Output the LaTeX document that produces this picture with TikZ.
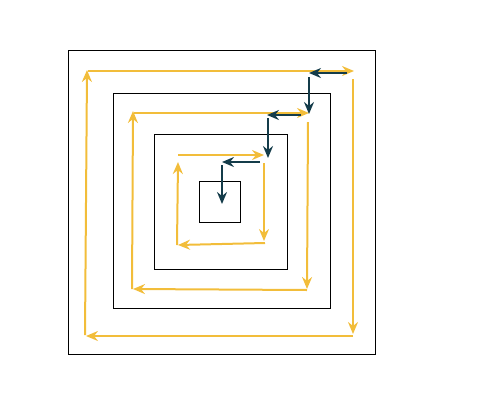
\documentclass[tikz,border=0pt]{standalone}
\usepackage{xcolor}
\usepackage{tikz}
\usetikzlibrary{arrows.meta}

\definecolor{spiralyellow}{HTML}{F2BD3A}
\definecolor{stepteal}{HTML}{143C4A}

\begin{document}
\begin{tikzpicture}[x=1pt,y=-1pt,
  frame/.style={draw=black,line width=0.9pt},
  yarrow/.style={draw=spiralyellow,line width=2pt,-{Stealth[length=12pt,width=10pt,inset=4pt]}},
  tarrow/.style={draw=stepteal,line width=2pt,-{Stealth[length=12pt,width=10pt,inset=4pt]}}]
\useasboundingbox (0,0) rectangle (477,416);

% nested squares
\draw[frame] (68,50) rectangle (375,354);
\draw[frame] (113,93) rectangle (330,308);
\draw[frame] (154,134) rectangle (287,269);
\draw[frame] (199,181) rectangle (240,222);

% outer ring
\draw[yarrow] (88,71) -- (354,71);
\draw[yarrow] (353,79) -- (353,334);
\draw[yarrow] (353,336) -- (86,336);
\draw[yarrow] (85,335) -- (87,70);

% middle ring
\draw[yarrow] (134,113) -- (309,113);
\draw[yarrow] (308,122) -- (307,289);
\draw[yarrow] (307,290) -- (133,289);
\draw[yarrow] (132,289) -- (133,111);

% inner ring
\draw[yarrow] (178,155) -- (264,155);
\draw[yarrow] (264,163) -- (264,241);
\draw[yarrow] (265,243) -- (178,245);
\draw[yarrow] (177,245) -- (178,162);

% steps inward
\draw[tarrow] (347,73) -- (309,73);
\draw[tarrow] (309,77) -- (309,114);
\draw[tarrow] (301,115) -- (267,115);
\draw[tarrow] (268,118) -- (268,158);
\draw[tarrow] (260,162) -- (222,162);
\draw[tarrow] (222,165) -- (222,204);
\end{tikzpicture}
\end{document}
